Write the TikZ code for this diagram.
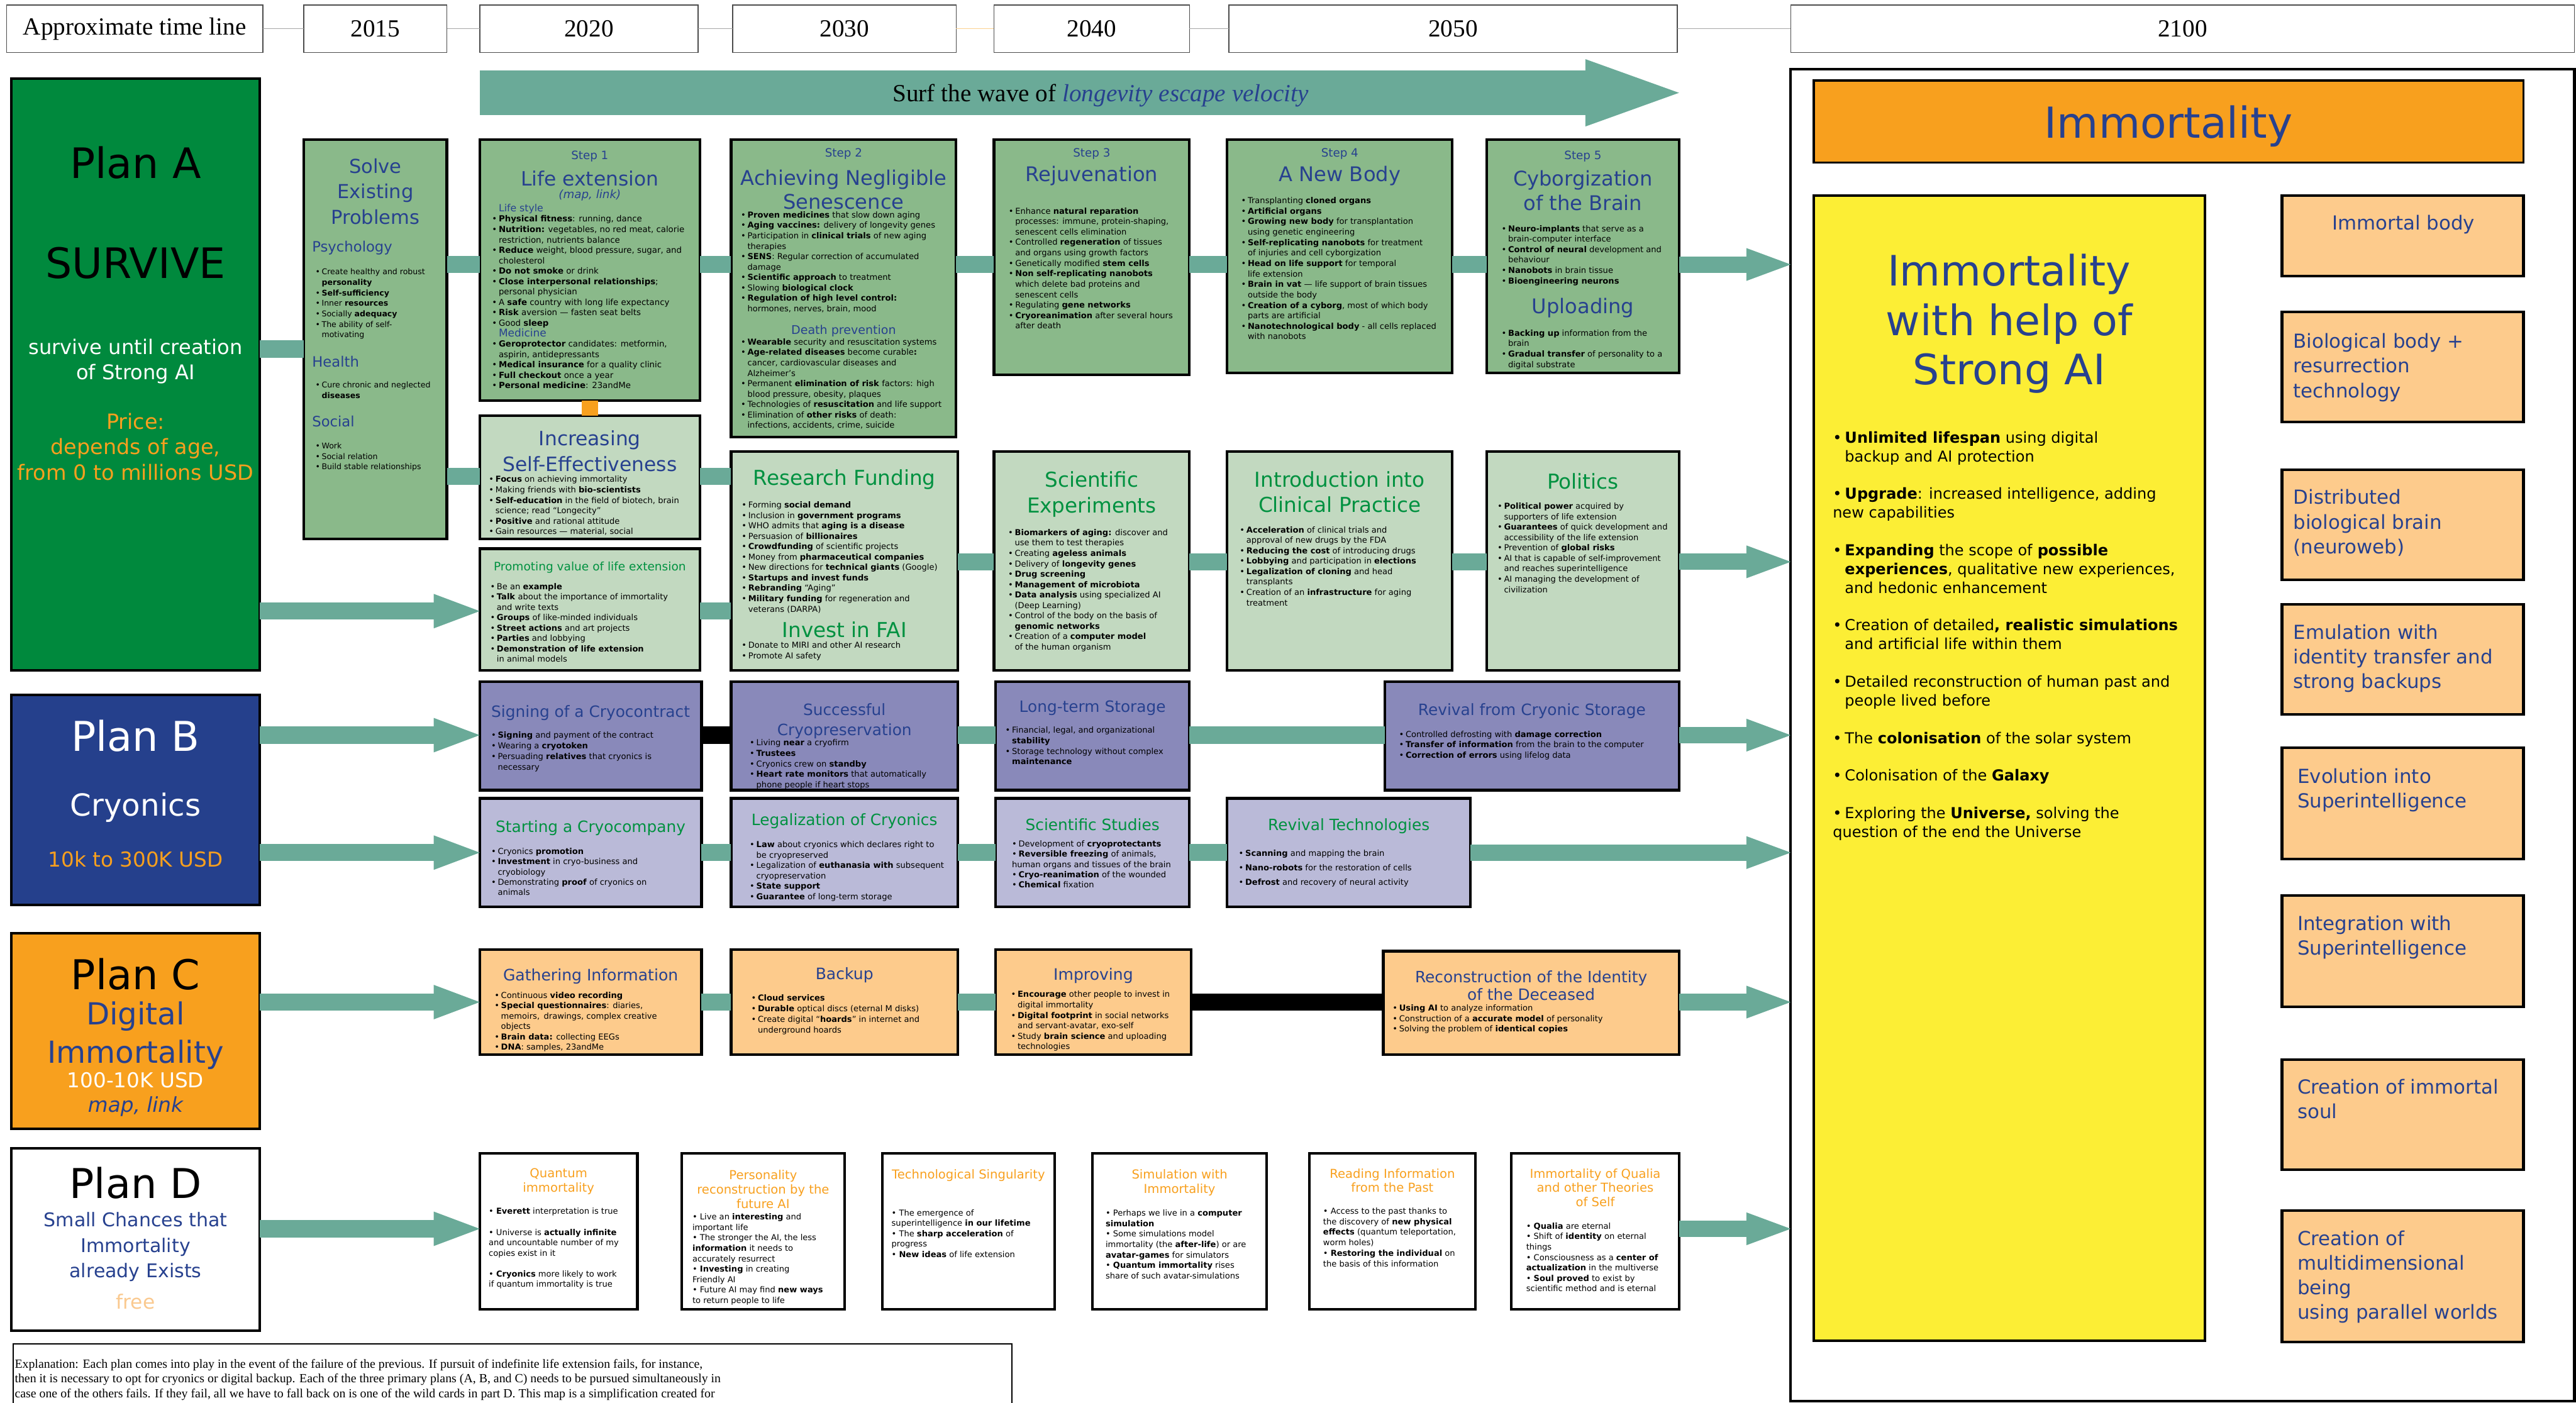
\documentclass[tikz,border=0pt]{standalone}
\usepackage{fontspec}
\setmainfont{DejaVu Sans}
\newfontfamily\serf{Liberation Serif}
\usetikzlibrary{positioning}
\usetikzlibrary{arrows.meta}

\definecolor{planAgreen}{RGB}{0,137,61}
\definecolor{stepgreen}{RGB}{138,185,138}
\definecolor{palegreen}{RGB}{194,217,192}
\definecolor{bandteal}{RGB}{106,170,152}
\definecolor{planBblue}{RGB}{37,64,140}
\definecolor{cryoA}{RGB}{137,137,186}
\definecolor{cryoB}{RGB}{186,186,216}
\definecolor{planCorange}{RGB}{248,160,30}
\definecolor{peach}{RGB}{253,203,140}
\definecolor{immyellow}{RGB}{252,238,53}
\definecolor{titleblue}{RGB}{39,65,143}
\definecolor{titlegreen}{RGB}{0,145,64}
\definecolor{freepeach}{RGB}{250,201,143}

\newcommand{\fs}[2]{\fontsize{#1}{#2}\selectfont}
\newcommand{\bl}{\makebox[0.8em][l]{\textbullet}}
\newcommand{\cn}{\hspace*{0.8em}}
\newcommand{\bd}{\textbullet\ }

\tikzset{
  box/.style={draw=black, line width=1.6pt, anchor=north west},
  band/.style={draw=bandteal, line width=10.5pt},
  blackband/.style={draw=black, line width=10.5pt},
  bigarrow/.style={draw=bandteal, line width=10.5pt, -{Triangle[length=28pt,width=21pt,line width=0pt]}},
  endarrow/.style={draw=bandteal, line width=10pt, -{Triangle[length=27pt,width=20pt,line width=0pt]}},
  yearbox/.style={draw=black!70, line width=0.6pt, anchor=north west, minimum height=29, font=\serf\fs{15}{17}},
  ttl/.style={text=titleblue, align=center},
  gttl/.style={text=titlegreen, align=center},
  ottl/.style={text=planCorange, align=center, font=\fs{7.5}{8.7}},
  blist/.style={anchor=north west, align=left, yshift=-2pt, font=\fs{5}{6.34}},
  rbox/.style={box, fill=peach, minimum width=147},
  rtext/.style={anchor=north west, align=left, text=titleblue, font=\fs{11.8}{15}},
}

\begin{document}
\begin{tikzpicture}[x=1pt, y=-1pt, every node/.style={inner sep=0pt, outer sep=0pt}]
\useasboundingbox (0,0) rectangle (1568,854);

% heights of the connector rows
\coordinate (rowA) at (0,161);
\coordinate (rowAs) at (0,212.5);
\coordinate (rowAi) at (0,290);
\coordinate (rowAf) at (0,342);
\coordinate (rowAp) at (0,372);
\coordinate (rowB) at (0,447.5);
\coordinate (rowBb) at (0,519);
\coordinate (rowC) at (0,610);
\coordinate (rowD) at (0,748);

% time line
\node[yearbox, minimum width=156] (tl) at (4,3) {Approximate time line};
\node[yearbox, minimum width=87] (y2015) at (185,3) {2015};
\node[yearbox, minimum width=133] (y2020) at (292,3) {2020};
\node[yearbox, minimum width=136] (y2030) at (446,3) {2030};
\node[yearbox, minimum width=119] (y2040) at (605,3) {2040};
\node[yearbox, minimum width=273] (y2050) at (748,3) {2050};
\node[yearbox, minimum width=477] (y2100) at (1090,3) {2100};
\draw[black!35, line width=0.5pt] (tl.east) -- (y2015.west) (y2015.east) -- (y2020.west)
  (y2020.east) -- (y2030.west) (y2040.east) -- (y2050.west) (y2050.east) -- (y2100.west);
\draw[planCorange!50, line width=0.5pt] (y2030.east) -- (y2040.west);

% wave
\coordinate (surfL) at (292,56.5);
\coordinate (surfR) at (1022,56.5);
\draw[draw=bandteal, line width=27pt, -{Triangle[length=57pt,width=41pt,line width=0pt]}] (surfL) -- (surfR);
\node (surftext) at (670,58) {\serf\fs{15}{17}Surf the wave of \textcolor{titleblue}{\itshape longevity escape velocity}};

% plans
\node[box, fill=planAgreen, minimum width=151, minimum height=360] (planA) at (7,48) {};
\node[font=\fs{25.5}{30}] (planAname) at (82.5,99) {Plan A};
\node[font=\fs{25.5}{30}] (survive) at (82.5,160) {SURVIVE};
\node[anchor=north, text=white, align=center, font=\fs{12.3}{15.2}] (surviveText) at (82.5,206.5) {survive until creation\\of Strong AI};
\node[anchor=north, text=planCorange, align=center, font=\fs{12.8}{15.5}] (priceA) at (82.5,251.5) {Price:\\depends of age,\\from 0 to millions USD};

\node[box, fill=planBblue, minimum width=151, minimum height=128] (planB) at (7,423) {};
\node[text=white, font=\fs{25}{30}] (planBname) at (82.5,448) {Plan B};
\node[text=white, font=\fs{18.5}{22}] (cryonics) at (82.5,491.5) {Cryonics};
\node[text=planCorange, font=\fs{12.5}{15}] (priceB) at (82.5,523) {10k to 300K USD};

\node[box, fill=planCorange, minimum width=151, minimum height=119] (planC) at (7,568) {};
\node[font=\fs{25}{30}] (planCname) at (82.5,593) {Plan C};
\node[text=titleblue, font=\fs{18.5}{22}] (digital) at (82.5,618.5) {Digital};
\node[text=titleblue, font=\fs{18.5}{22}] (digimm) at (82.5,642) {Immortality};
\node[text=white, font=\fs{12.5}{15}] (priceC) at (82.5,657.6) {100-10K USD};
\node[text=titleblue, font=\fs{12.5}{15}\itshape] (mapC) at (82.5,673.5) {map, link};

\node[box, fill=white, minimum width=151, minimum height=111] (planD) at (7,699) {};
\node[font=\fs{25}{30}] (planDname) at (82.5,720) {Plan D};
\node[text=titleblue, align=center, font=\fs{11.5}{15.5}] (chances) at (82.5,759) {Small Chances that\\Immortality\\already Exists};
\node[text=freepeach, font=\fs{12}{15}] (priceD) at (82.5,792.5) {free};

% plan A, first steps
\node[box, fill=stepgreen, minimum width=87, minimum height=243] (solve) at (185,85) {};
\node[ttl, anchor=north, font=\fs{11.7}{15.5}] (solveTitle) at (228.5,96.5) {Solve\\Existing\\Problems};
\node[anchor=west, text=titleblue, font=\fs{8.7}{10}] (psy) at (190,151) {Psychology};
\node[blist, font=\fs{4.8}{6.4}] (psyList) at (192,161.5) {\bl Create healthy and robust\\
\cn\textbf{personality}\\
\bl\textbf{Self-sufficiency}\\
\bl Inner \textbf{resources}\\
\bl Socially \textbf{adequacy}\\
\bl The ability of self-\\
\cn motivating};
\node[anchor=west, text=titleblue, font=\fs{8.7}{10}] (health) at (190,220) {Health};
\node[blist, font=\fs{4.8}{6.4}] (healthList) at (192,230.5) {\bl Cure chronic and neglected\\
\cn\textbf{diseases}};
\node[anchor=west, text=titleblue, font=\fs{8.7}{10}] (social) at (190,256.5) {Social};
\node[blist, font=\fs{4.8}{6.4}] (socialList) at (192,267.5) {\bl Work\\
\bl Social relation\\
\bl Build stable relationships};

\node[box, fill=stepgreen, minimum width=134, minimum height=159] (step1) at (292,85) {};
\node[text=titleblue, font=\fs{7}{8}] (step1no) at (359,95) {Step 1};
\node[text=titleblue, font=\fs{12}{14}] (step1name) at (359,108.5) {Life extension};
\node[text=titleblue, font=\fs{7}{8}\itshape] (step1link) at (359,119) {(map, link)};
\node[blist, font=\fs{5.1}{6.34}] (step1list) at (299.5,122.2) {\cn{\color{titleblue}\fs{6}{6.6}\selectfont Life style}\\
\bl\textbf{Physical fitness}: running, dance\\
\bl\textbf{Nutrition:} vegetables, no red meat, calorie\\
\cn restriction, nutrients balance\\
\bl\textbf{Reduce} weight, blood pressure, sugar, and\\
\cn cholesterol\\
\bl\textbf{Do not smoke} or drink\\
\bl\textbf{Close interpersonal relationships};\\
\cn personal physician\\
\bl A \textbf{safe} country with long life expectancy\\
\bl\textbf{Risk} aversion — fasten seat belts\\
\bl Good \textbf{sleep}\\
\cn{\color{titleblue}\fs{6.5}{7.2}\selectfont Medicine}\\
\bl\textbf{Geroprotector} candidates: metformin,\\
\cn aspirin, antidepressants\\
\bl\textbf{Medical insurance} for a quality clinic\\
\bl\textbf{Full checkout} once a year\\
\bl\textbf{Personal medicine}: 23andMe};

\node[box, fill=stepgreen, minimum width=137, minimum height=181] (step2) at (445,85) {};
\node[text=titleblue, font=\fs{7}{8}] (step2no) at (513.5,93.5) {Step 2};
\node[ttl, font=\fs{12.3}{14.6}] (step2name) at (513.5,115.5) {Achieving Negligible\\Senescence};
\node[blist] (step2list) at (451,126.8) {\bl\textbf{Proven medicines} that slow down aging\\
\bl\textbf{Aging vaccines:} delivery of longevity genes\\
\bl Participation in \textbf{clinical trials} of new aging\\
\cn therapies\\
\bl\textbf{SENS}: Regular correction of accumulated\\
\cn damage\\
\bl\textbf{Scientific approach} to treatment\\
\bl Slowing \textbf{biological clock}\\
\bl\textbf{Regulation of high level control:}\\
\cn hormones, nerves, brain, mood};
\node[text=titleblue, font=\fs{7.3}{8.5}] (deathprev) at (513.5,201.5) {Death prevention};
\node[blist] (step2list2) at (451,204.1) {\bl\textbf{Wearable} security and resuscitation systems\\
\bl\textbf{Age-related diseases} become curable\textbf{:}\\
\cn cancer, cardiovascular diseases and\\
\cn Alzheimer’s\\
\bl Permanent \textbf{elimination of risk} factors: high\\
\cn blood pressure, obesity, plaques\\
\bl Technologies of \textbf{resuscitation} and life support\\
\bl Elimination of \textbf{other risks} of death:\\
\cn infections, accidents, crime, suicide};

\node[box, fill=stepgreen, minimum width=119, minimum height=143] (step3) at (605,85) {};
\node[text=titleblue, font=\fs{7}{8}] (step3no) at (664.5,93.5) {Step 3};
\node[text=titleblue, font=\fs{12.3}{14.6}] (step3name) at (664.5,107) {Rejuvenation};
\node[blist, font=\fs{5}{6.36}] (step3list) at (614,124.4) {\bl Enhance \textbf{natural reparation}\\
\cn processes: immune, protein-shaping,\\
\cn senescent cells elimination\\
\bl Controlled \textbf{regeneration} of tissues\\
\cn and organs using growth factors\\
\bl Genetically modified \textbf{stem cells}\\
\bl\textbf{Non self-replicating nanobots}\\
\cn which delete bad proteins and\\
\cn senescent cells\\
\bl Regulating \textbf{gene networks}\\
\bl\textbf{Cryoreanimation} after several hours\\
\cn after death};

\node[box, fill=stepgreen, minimum width=137, minimum height=142] (step4) at (747,85) {};
\node[text=titleblue, font=\fs{7}{8}] (step4no) at (815.5,93.5) {Step 4};
\node[text=titleblue, font=\fs{12.3}{14.6}] (step4name) at (815.5,107) {A New Body};
\node[blist, font=\fs{5}{6.37}] (step4list) at (755.5,118.1) {\bl Transplanting \textbf{cloned organs}\\
\bl\textbf{Artificial organs}\\
\bl\textbf{Growing new body} for transplantation\\
\cn using genetic engineering\\
\bl\textbf{Self-replicating nanobots} for treatment\\
\cn of injuries and cell cyborgization\\
\bl\textbf{Head on life support} for temporal\\
\cn life extension\\
\bl\textbf{Brain in vat} — life support of brain tissues\\
\cn outside the body\\
\bl\textbf{Creation of a cyborg}, most of which body\\
\cn parts are artificial\\
\bl\textbf{Nanotechnological body} - all cells replaced\\
\cn with nanobots};

\node[box, fill=stepgreen, minimum width=117, minimum height=142] (step5) at (905,85) {};
\node[text=titleblue, font=\fs{7}{8}] (step5no) at (963.5,95) {Step 5};
\node[ttl, font=\fs{12.3}{15}] (step5name) at (963.5,116) {Cyborgization\\of the Brain};
\node[blist, font=\fs{5}{6.36}] (step5list) at (914,135.1) {\bl\textbf{Neuro-implants} that serve as a\\
\cn brain-computer interface\\
\bl\textbf{Control of neural} development and\\
\cn behaviour\\
\bl\textbf{Nanobots} in brain tissue\\
\bl\textbf{Bioengineering neurons}};
\node[text=titleblue, font=\fs{12.3}{14.6}] (uploading) at (963.5,187.5) {Uploading};
\node[blist, font=\fs{5}{6.36}] (step5list2) at (914,198.7) {\bl\textbf{Backing up} information from the\\
\cn brain\\
\bl\textbf{Gradual transfer} of personality to a\\
\cn digital substrate};

% plan A, second row
\node[box, fill=palegreen, minimum width=134, minimum height=75] (incr) at (292,253) {};
\node[ttl, font=\fs{12}{15.6}] (incrTitle) at (359,274.5) {Increasing\\Self-Effectiveness};
\node[blist] (incrList) at (297.6,287.8) {\bl\textbf{Focus} on achieving immortality\\
\bl Making friends with \textbf{bio-scientists}\\
\bl\textbf{Self-education} in the field of biotech, brain\\
\cn science; read “Longecity”\\
\bl\textbf{Positive} and rational attitude\\
\bl Gain resources — material, social};

\node[box, fill=palegreen, minimum width=134, minimum height=74] (promo) at (292,334) {};
\node[gttl, font=\fs{7.1}{8.5}] (promoTitle) at (359,345.5) {Promoting value of life extension};
\node[blist] (promoList) at (298.4,352.9) {\bl Be an \textbf{example}\\
\bl\textbf{Talk} about the importance of immortality\\
\cn and write texts\\
\bl\textbf{Groups} of like-minded individuals\\
\bl\textbf{Street actions} and art projects\\
\bl\textbf{Parties} and lobbying\\
\bl\textbf{Demonstration of life extension}\\
\cn in animal models};

\node[box, fill=palegreen, minimum width=138, minimum height=133] (fund) at (445,275) {};
\node[gttl, font=\fs{12.5}{15}] (fundTitle) at (514,292) {Research Funding};
\node[blist] (fundList) at (451.5,303.3) {\bl Forming \textbf{social demand}\\
\bl Inclusion in \textbf{government programs}\\
\bl WHO admits that \textbf{aging is a disease}\\
\bl Persuasion of \textbf{billionaires}\\
\bl\textbf{Crowdfunding} of scientific projects\\
\bl Money from \textbf{pharmaceutical companies}\\
\bl New directions for \textbf{technical giants} (Google)\\
\bl\textbf{Startups and invest funds}\\
\bl\textbf{Rebranding} “Aging”\\
\bl\textbf{Military funding} for regeneration and\\
\cn veterans (DARPA)};
\node[gttl, font=\fs{12.5}{15}] (faiTitle) at (514,383.5) {Invest in FAI};
\node[blist] (faiList) at (451.5,388.7) {\bl Donate to MIRI and other AI research\\
\bl Promote AI safety};

\node[box, fill=palegreen, minimum width=119, minimum height=133] (sciexp) at (605,275) {};
\node[gttl, font=\fs{12.5}{15.7}] (sciexpTitle) at (664.5,301) {Scientific\\Experiments};
\node[blist] (sciexpList) at (613.7,320.1) {\bl\textbf{Biomarkers of aging:} discover and\\
\cn use them to test therapies\\
\bl Creating \textbf{ageless animals}\\
\bl Delivery of \textbf{longevity genes}\\
\bl\textbf{Drug screening}\\
\bl\textbf{Management of microbiota}\\
\bl\textbf{Data analysis} using specialized AI\\
\cn (Deep Learning)\\
\bl Control of the body on the basis of\\
\cn\textbf{genomic networks}\\
\bl Creation of a \textbf{computer model}\\
\cn of the human organism};

\node[box, fill=palegreen, minimum width=137, minimum height=133] (clinic) at (747,275) {};
\node[gttl, font=\fs{12.5}{15.2}] (clinicTitle) at (815.5,299.5) {Introduction into\\Clinical Practice};
\node[blist] (clinicList) at (754.7,318.5) {\bl\textbf{Acceleration} of clinical trials and\\
\cn approval of new drugs by the FDA\\
\bl\textbf{Reducing the cost} of introducing drugs\\
\bl\textbf{Lobbying} and participation in \textbf{elections}\\
\bl\textbf{Legalization of cloning} and head\\
\cn transplants\\
\bl Creation of an \textbf{infrastructure} for aging\\
\cn treatment};

\node[box, fill=palegreen, minimum width=117, minimum height=133] (politics) at (905,275) {};
\node[gttl, font=\fs{12.5}{15}] (politicsTitle) at (963.5,293) {Politics};
\node[blist] (politicsList) at (911.5,304.1) {\bl\textbf{Political power} acquired by\\
\cn supporters of life extension\\
\bl\textbf{Guarantees} of quick development and\\
\cn accessibility of the life extension\\
\bl Prevention of \textbf{global risks}\\
\bl AI that is capable of self-improvement\\
\cn and reaches superintelligence\\
\bl AI managing the development of\\
\cn civilization};

% plan B
\node[box, fill=cryoA, minimum width=135, minimum height=66] (sign) at (292,415) {};
\node[ttl, font=\fs{9.5}{12}] (signTitle) at (359.5,434) {Signing of a Cryocontract};
\node[blist, font=\fs{5}{6.4}] (signList) at (299,443.6) {\bl\textbf{Signing} and payment of the contract\\
\bl Wearing a \textbf{cryotoken}\\
\bl Persuading \textbf{relatives} that cryonics is\\
\cn necessary};

\node[box, fill=cryoA, minimum width=138, minimum height=66] (success) at (445,415) {};
\node[ttl, font=\fs{9.5}{12}] (successTitle) at (514,439) {Successful\\Cryopreservation};
\node[blist, font=\fs{5}{6.4}] (successList) at (456.4,448.1) {\bl Living \textbf{near} a cryofirm\\
\bl\textbf{Trustees}\\
\bl Cryonics crew on \textbf{standby}\\
\bl\textbf{Heart rate monitors} that automatically\\
\cn phone people if heart stops};

\node[box, fill=cryoA, minimum width=118, minimum height=66] (storage) at (606,415) {};
\node[ttl, font=\fs{9.5}{12}] (storageTitle) at (665,431) {Long-term Storage};
\node[blist, font=\fs{5}{6.4}] (storageList) at (612,440.4) {\bl Financial, legal, and organizational\\
\cn\textbf{stability}\\
\bl Storage technology without complex\\
\cn\textbf{maintenance}};

\node[box, fill=cryoA, minimum width=179, minimum height=66] (revival) at (843,415) {};
\node[ttl, font=\fs{9.5}{12}] (revivalTitle) at (932.5,433) {Revival from Cryonic Storage};
\node[blist, font=\fs{5}{6.3}] (revivalList) at (851.6,443) {\bl Controlled defrosting with \textbf{damage correction}\\
\bl\textbf{Transfer of information} from the brain to the computer\\
\bl\textbf{Correction of errors} using lifelog data};

\node[box, fill=cryoB, minimum width=135, minimum height=66] (startco) at (292,486) {};
\node[gttl, font=\fs{9.5}{12}] (startcoTitle) at (359.5,504) {Starting a Cryocompany};
\node[blist, font=\fs{5}{6.3}] (startcoList) at (299,514.1) {\bl Cryonics \textbf{promotion}\\
\bl\textbf{Investment} in cryo-business and\\
\cn cryobiology\\
\bl Demonstrating \textbf{proof} of cryonics on\\
\cn animals};

\node[box, fill=cryoB, minimum width=138, minimum height=66] (legal) at (445,486) {};
\node[gttl, font=\fs{9.5}{12}] (legalTitle) at (514,500) {Legalization of Cryonics};
\node[blist, font=\fs{5}{6.34}] (legalList) at (456.4,510.1) {\bl\textbf{Law} about cryonics which declares right to\\
\cn be cryopreserved\\
\bl Legalization of \textbf{euthanasia with} subsequent\\
\cn cryopreservation\\
\bl\textbf{State support}\\
\bl\textbf{Guarantee} of long-term storage};

\node[box, fill=cryoB, minimum width=118, minimum height=66] (scistud) at (606,486) {};
\node[gttl, font=\fs{9.5}{12}] (scistudTitle) at (665,502) {Scientific Studies};
\node[blist, font=\fs{5}{6.3}] (scistudList) at (616,509.5) {\bl Development of \textbf{cryoprotectants}\\
\bl\textbf{Reversible freezing} of animals,\\
human organs and tissues of the brain\\
\bl\textbf{Cryo-reanimation} of the wounded\\
\bl\textbf{Chemical} fixation};

\node[box, fill=cryoB, minimum width=148, minimum height=66] (revtech) at (747,486) {};
\node[gttl, font=\fs{9.5}{12}] (revtechTitle) at (821,503) {Revival Technologies};
\node[blist, font=\fs{5}{8.85}] (revtechList) at (754,515.4) {\bl\textbf{Scanning} and mapping the brain\\
\bl\textbf{Nano-robots} for the restoration of cells\\
\bl\textbf{Defrost} and recovery of neural activity};

% plan C
\node[box, fill=peach, minimum width=135, minimum height=64] (gather) at (292,578) {};
\node[ttl, font=\fs{9.6}{12}] (gatherTitle) at (359.5,594.5) {Gathering Information};
\node[blist, font=\fs{5}{6.3}] (gatherList) at (301,601.8) {\bl Continuous \textbf{video recording}\\
\bl\textbf{Special questionnaires}: diaries,\\
\cn memoirs,\enspace drawings, complex creative\\
\cn objects\\
\bl\textbf{Brain data:} collecting EEGs\\
\bl\textbf{DNA}: samples, 23andMe};

\node[box, fill=peach, minimum width=138, minimum height=64] (backup) at (445,578) {};
\node[ttl, font=\fs{9.6}{12}] (backupTitle) at (514,593.5) {Backup};
\node[blist, font=\fs{5}{6.4}] (backupList) at (457.3,603.6) {\bl\textbf{Cloud services}\\
\bl\textbf{Durable} optical discs (eternal M disks)\\
\bl Create digital “\textbf{hoards}” in internet and\\
\cn underground hoards};

\node[box, fill=peach, minimum width=119, minimum height=64] (improve) at (606,578) {};
\node[ttl, font=\fs{9.6}{12}] (improveTitle) at (665.5,594) {Improving};
\node[blist, font=\fs{5}{6.35}] (improveList) at (615.4,601.3) {\bl\textbf{Encourage} other people to invest in\\
\cn digital immortality\\
\bl\textbf{Digital footprint} in social networks\\
\cn and servant-avatar, exo-self\\
\bl Study \textbf{brain science} and uploading\\
\cn technologies};

\node[box, fill=peach, minimum width=180, minimum height=63] (recon) at (842,579) {};
\node[ttl, font=\fs{9.5}{10.9}] (reconTitle) at (932,600) {Reconstruction of the Identity\\of the Deceased};
\node[blist, font=\fs{5}{6.4}] (reconList) at (847.7,609.5) {\bl\textbf{Using AI} to analyze information\\
\bl Construction of a \textbf{accurate model} of personality\\
\bl Solving the problem of \textbf{identical copies}};

% plan D
\node[box, fill=white, minimum width=96, minimum height=95] (quantum) at (292,702) {};
\node[ottl, anchor=north] (quantumTitle) at (340,711.4) {Quantum\\immortality};
\node[blist, font=\fs{5}{6.35}] (quantumList) at (297.5,733.3) {\bd\textbf{Everett} interpretation is true\\[6.45pt]
\bd Universe is \textbf{actually infinite}\\
and uncountable number of my\\
copies exist in it\\[6.3pt]
\bd\textbf{Cryonics} more likely to work\\
if quantum immortality is true};

\node[box, fill=white, minimum width=99, minimum height=95] (person) at (415,702) {};
\node[ottl, anchor=north] (personTitle) at (464.5,712.4) {Personality\\reconstruction by the\\future AI};
\node[blist, font=\fs{5}{6.36}] (personList) at (421.5,736.7) {\bd Live an \textbf{interesting} and\\
important life\\
\bd The stronger the AI, the less\\
\textbf{information} it needs to\\
accurately resurrect\\
\bd\textbf{Investing} in creating\\
Friendly AI\\
\bd Future AI may find \textbf{new ways}\\
to return people to life};

\node[box, fill=white, minimum width=105, minimum height=95] (singul) at (537,702) {};
\node[ottl, anchor=north] (singulTitle) at (589.5,711.9) {Technological Singularity};
\node[blist, font=\fs{5}{6.33}] (singulList) at (542.7,734.3) {\bd The emergence of\\
superintelligence \textbf{in our lifetime}\\
\bd The \textbf{sharp acceleration} of\\
progress\\
\bd\textbf{New ideas} of life extension};

\node[box, fill=white, minimum width=106, minimum height=95] (simul) at (665,702) {};
\node[ottl, anchor=north] (simulTitle) at (718,711.9) {Simulation with\\Immortality};
\node[blist, font=\fs{5}{6.38}] (simulList) at (673,734.3) {\bd Perhaps we live in a \textbf{computer}\\
\textbf{simulation}\\
\bd Some simulations model\\
immortality (the \textbf{after-life}) or are\\
\textbf{avatar-games} for simulators\\
\bd\textbf{Quantum immortality} rises\\
share of such avatar-simulations};

\node[box, fill=white, minimum width=101, minimum height=95] (reading) at (797,702) {};
\node[ottl, anchor=north] (readingTitle) at (847.5,711.4) {Reading Information\\from the Past};
\node[blist, font=\fs{5}{6.4}] (readingList) at (805.4,733.2) {\bd Access to the past thanks to\\
the discovery of \textbf{new physical}\\
\textbf{effects} (quantum teleportation,\\
worm holes)\\
\bd\textbf{Restoring the individual} on\\
the basis of this information};

\node[box, fill=white, minimum width=102, minimum height=95] (qualia) at (920,702) {};
\node[ottl, anchor=north] (qualiaTitle) at (971,711.3) {Immortality of Qualia\\and other Theories\\of Self};
\node[blist, font=\fs{5}{6.35}] (qualiaList) at (929,742.3) {\bd\textbf{Qualia} are eternal\\
\bd Shift of \textbf{identity} on eternal\\
things\\
\bd Consciousness as a \textbf{center of}\\
\textbf{actualization} in the multiverse\\
\bd\textbf{Soul proved} to exist by\\
scientific method and is eternal};

% the goal
\node[box, fill=white, minimum width=477, minimum height=811] (future) at (1090,42) {};
\node[box, line width=1.2pt, fill=planCorange, minimum width=432, minimum height=50] (immBanner) at (1104,49) {};
\node[text=titleblue, font=\fs{26}{30}] (immTitle) at (1320,77) {Immortality};
\node[box, fill=immyellow, minimum width=238, minimum height=697] (strongAI) at (1104,119) {};
\node[ttl, anchor=north, font=\fs{25.5}{30.2}] (strongTitle) at (1223,154.5) {Immortality\\with help of\\Strong AI};
\node[blist, font=\fs{9.2}{11.4}] (strongList) at (1115.6,260.6) {\bl\textbf{Unlimited lifespan} using digital\\
\cn backup and AI protection\\[11.5pt]
\bl\textbf{Upgrade}: increased intelligence, adding\\
new capabilities\\[11.5pt]
\bl\textbf{Expanding} the scope of \textbf{possible}\\
\cn\textbf{experiences}, qualitative new experiences,\\
\cn and hedonic enhancement\\[11.5pt]
\bl Creation of detailed\textbf{, realistic simulations}\\
\cn and artificial life within them\\[11.5pt]
\bl Detailed reconstruction of human past and\\
\cn people lived before\\[11.5pt]
\bl The \textbf{colonisation} of the solar system\\[11.5pt]
\bl Colonisation of the \textbf{Galaxy}\\[11.5pt]
\bl Exploring the \textbf{Universe,} solving the\\
question of the end the Universe};

\node[rbox, minimum height=49] (immbody) at (1389,119) {};
\node[rtext, anchor=north] (immbodyText) at (1463,131) {Immortal body};
\node[rbox, minimum height=67] (biobody) at (1389,190) {};
\node[rtext] (biobodyText) at (1396,203) {Biological body +\\resurrection\\technology};
\node[rbox, minimum height=67] (distbrain) at (1389,286) {};
\node[rtext] (distbrainText) at (1396,298) {Distributed\\biological brain\\(neuroweb)};
\node[rbox, minimum height=67] (emulation) at (1389,368) {};
\node[rtext] (emulationText) at (1396,380) {Emulation with\\identity transfer and\\strong backups};
\node[rbox, minimum height=68] (evolution) at (1389,455) {};
\node[rtext] (evolutionText) at (1398.5,467.7) {Evolution into\\Superintelligence};
\node[rbox, minimum height=68] (integration) at (1389,545) {};
\node[rtext] (integrationText) at (1398.5,557.5) {Integration with\\Superintelligence};
\node[rbox, minimum height=67] (soul) at (1389,645) {};
\node[rtext] (soulText) at (1398.5,656.8) {Creation of immortal\\soul};
\node[rbox, minimum height=80] (multidim) at (1389,737) {};
\node[rtext] (multidimText) at (1398.5,749) {Creation of\\multidimensional\\being\\using parallel worlds};

% connectors, plan A
\draw[band] (planA.east |- rowAs) -- (solve.west |- rowAs);
\draw[band] (solve.east |- rowA) -- (step1.west |- rowA);
\draw[band] (step1.east |- rowA) -- (step2.west |- rowA);
\draw[band] (step2.east |- rowA) -- (step3.west |- rowA);
\draw[band] (step3.east |- rowA) -- (step4.west |- rowA);
\draw[band] (step4.east |- rowA) -- (step5.west |- rowA);
\draw[endarrow] (step5.east |- rowA) -- (future.west |- rowA);
\draw[draw=planCorange, line width=10pt] (step1.south) -- (incr.north);
\draw[band] (solve.east |- rowAi) -- (incr.west |- rowAi);
\draw[band] (incr.east |- rowAi) -- (fund.west |- rowAi);
\draw[bigarrow] (planA.east |- rowAp) -- (promo.west |- rowAp);
\draw[band] (promo.east |- rowAp) -- (fund.west |- rowAp);
\draw[band] (fund.east |- rowAf) -- (sciexp.west |- rowAf);
\draw[band] (sciexp.east |- rowAf) -- (clinic.west |- rowAf);
\draw[band] (clinic.east |- rowAf) -- (politics.west |- rowAf);
\draw[endarrow] (politics.east |- rowAf) -- (future.west |- rowAf);

% connectors, plan B
\draw[bigarrow] (planB.east |- rowB) -- (sign.west |- rowB);
\draw[blackband] (sign.east |- rowB) -- (success.west |- rowB);
\draw[band] (success.east |- rowB) -- (storage.west |- rowB);
\draw[band] (storage.east |- rowB) -- (revival.west |- rowB);
\draw[endarrow] (revival.east |- rowB) -- (future.west |- rowB);
\draw[bigarrow] (planB.east |- rowBb) -- (startco.west |- rowBb);
\draw[band] (startco.east |- rowBb) -- (legal.west |- rowBb);
\draw[band] (legal.east |- rowBb) -- (scistud.west |- rowBb);
\draw[band] (scistud.east |- rowBb) -- (revtech.west |- rowBb);
\draw[endarrow] (revtech.east |- rowBb) -- (future.west |- rowBb);

% connectors, plans C and D
\draw[bigarrow] (planC.east |- rowC) -- (gather.west |- rowC);
\draw[band] (gather.east |- rowC) -- (backup.west |- rowC);
\draw[band] (backup.east |- rowC) -- (improve.west |- rowC);
\draw[blackband] (improve.east |- rowC) -- (recon.west |- rowC);
\draw[endarrow] (recon.east |- rowC) -- (future.west |- rowC);
\draw[bigarrow] (planD.east |- rowD) -- (quantum.west |- rowD);
\draw[endarrow] (qualia.east |- rowD) -- (future.west |- rowD);

% explanation
\node[draw=black, line width=0.6pt, anchor=north west, minimum width=608, minimum height=60] (explbox) at (8,818) {};
\node[anchor=north west, align=left, font=\serf\fs{7.6}{8.9}] (expltext) at (9,827.5) {Explanation: Each plan comes into play in the event of the failure of the previous. If pursuit of indefinite life extension fails, for instance,\\
then it is necessary to opt for cryonics or digital backup. Each of the three primary plans (A, B, and C) needs to be pursued simultaneously in\\
case one of the others fails. If they fail, all we have to fall back on is one of the wild cards in part D. This map is a simplification created for};
\end{tikzpicture}
\end{document}
